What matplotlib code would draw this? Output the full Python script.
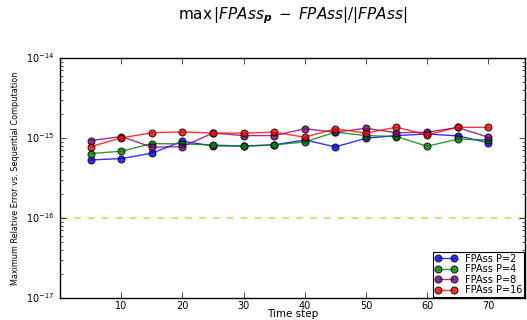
import matplotlib
matplotlib.use("Agg")
import matplotlib.pyplot as plt

plt.style.use("classic")
plt.rcParams["mathtext.fontset"] = "dejavusans"
plt.rcParams["font.family"] = "DejaVu Sans"

steps = [5, 10, 15, 20, 25, 30, 35, 40, 45, 50, 55, 60, 65, 70]

err_p2 = [5.31e-16, 5.51e-16, 6.44e-16, 9.1e-16, 7.94e-16, 7.94e-16, 8.18e-16,
          9.44e-16, 7.72e-16, 9.9e-16, 1.07e-15, 1.12e-15, 1.06e-15, 8.73e-16]
err_p4 = [6.37e-16, 6.82e-16, 8.49e-16, 8.41e-16, 8.18e-16, 7.87e-16, 8.18e-16,
          8.91e-16, 1.18e-15, 1.07e-15, 1.04e-15, 7.87e-16, 9.64e-16, 9.44e-16]
err_p8 = [9.25e-16, 1.04e-15, 7.66e-16, 7.78e-16, 1.15e-15, 1.07e-15, 1.07e-15,
          1.30e-15, 1.18e-15, 1.32e-15, 1.16e-15, 1.18e-15, 1.35e-15, 1.02e-15]
err_p16 = [7.78e-16, 1.0e-15, 1.16e-15, 1.19e-15, 1.15e-15, 1.15e-15, 1.18e-15,
           1.02e-15, 1.30e-15, 1.15e-15, 1.36e-15, 1.09e-15, 1.36e-15, 1.35e-15]

series = [
    ("FPAss P=2", err_p2, "#0000ff"),
    ("FPAss P=4", err_p4, "#008000"),
    ("FPAss P=8", err_p8, "#800080"),
    ("FPAss P=16", err_p16, "#ff0000"),
]
threshold = 1e-16

fig = plt.figure(figsize=(5.27, 3.2), dpi=100, facecolor="white")
ax = fig.add_axes([0.114, 0.069, 0.882, 0.75])

for label, values, color in series:
    ax.plot(steps, values, "-o", color=color, markerfacecolor=color,
            markeredgecolor="black", markeredgewidth=0.8, markersize=5,
            linewidth=1.0, alpha=0.8, label=label)

ax.axhline(threshold, color="#dede80", linestyle="--", linewidth=1.6, dashes=(5, 5))

ax.set_yscale("log")
ax.set_ylim(1e-17, 1e-14)
ax.set_xlim(0, 76)
ax.set_xticks([10, 20, 30, 40, 50, 60, 70])
ax.tick_params(labelsize=7)
ax.tick_params(axis="x", pad=2)
ax.set_xlabel("Time step", fontsize=7.5, labelpad=-1)
ax.set_ylabel("Maximum Relative Error vs. Sequential Computation", fontsize=6.5,
              fontstretch="condensed", labelpad=4)
ax.set_title(r"$\max\,|FPAss_{\boldsymbol{p}}\;-\;FPAss|/|FPAss|$",
             fontsize=11, pad=28)

leg = ax.legend(loc="lower right", fontsize=7, numpoints=2, borderaxespad=0.1,
                handlelength=2.2, labelspacing=0.05, borderpad=0.2,
                handletextpad=0.8)
leg.get_frame().set_linewidth(0.8)

fig.savefig("out.png", dpi=100, facecolor="white")
